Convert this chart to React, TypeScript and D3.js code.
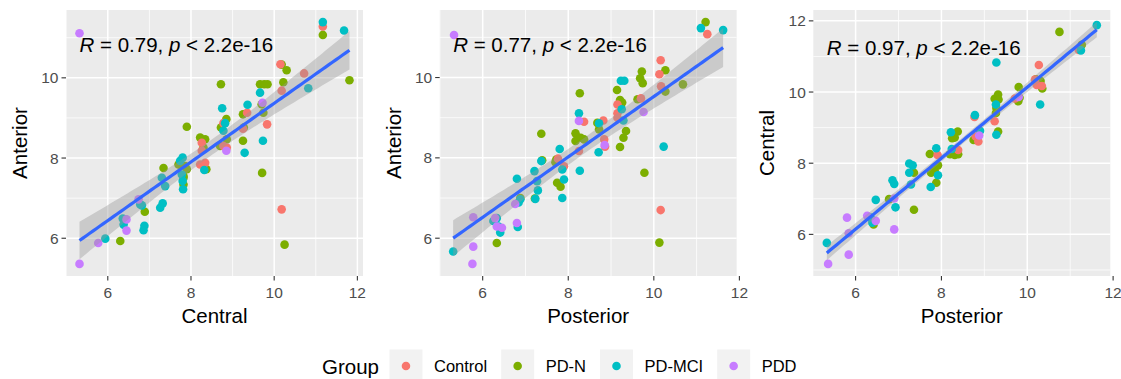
import React from "react";
import * as d3 from "d3";

// Group order, colours and legend title
const GROUPS = ["Control", "PD-N", "PD-MCI", "PDD"];
const GROUP_COLORS = ["#F8766D", "#7CAE00", "#00BFC4", "#C77CFF"];
const LEGEND_TITLE = "Group";

// [x, y, group index]
type Pt = [number, number, number];

// Central (x) vs Anterior (y)
const centralAnterior: Pt[] = [
  [11.17, 11.07, 1], [11.81, 9.94, 1], [10.18, 10.33, 1], [10.3, 10.19, 1], [10.22, 9.89, 1],
  [9.66, 9.84, 1], [9.76, 9.84, 1], [9.84, 9.84, 1], [9.7, 9.34, 1], [9.74, 9.13, 1],
  [9.71, 7.63, 1], [10.25, 5.84, 1], [9.25, 9.09, 1], [9.25, 8.43, 1], [9.27, 8.76, 1],
  [8.72, 9.84, 1], [8.85, 8.97, 1], [8.72, 8.76, 1], [8.86, 8.47, 1], [8.7, 8.3, 1],
  [8.22, 8.51, 1], [8.34, 8.47, 1], [8.28, 8.44, 1], [8.3, 8.26, 1], [8.37, 7.72, 1],
  [7.9, 8.78, 1], [7.7, 7.84, 1], [7.74, 7.84, 1], [7.86, 7.8, 1], [7.9, 7.72, 1],
  [7.82, 7.55, 1], [7.82, 7.51, 1], [7.82, 7.34, 1], [7.34, 7.75, 1], [6.89, 6.66, 1],
  [6.3, 5.93, 1],
  [11.17, 11.28, 0], [10.72, 10.11, 0], [10.15, 10.34, 0], [10.18, 9.68, 0], [10.18, 6.72, 0],
  [9.83, 8.84, 0], [9.35, 9.13, 0], [9.25, 8.73, 0], [8.78, 8.87, 0], [8.86, 8.26, 0],
  [8.78, 8.3, 0], [8.26, 8.38, 0], [8.26, 8.18, 0], [8.22, 7.84, 0], [8.34, 7.88, 0],
  [11.17, 11.39, 2], [11.68, 11.18, 2], [10.82, 9.74, 2], [9.66, 9.63, 2], [9.73, 8.43, 2],
  [9.36, 9.33, 2], [9.29, 8.13, 2], [8.75, 9.24, 2], [8.82, 8.87, 2], [8.78, 8.68, 2],
  [8.32, 7.7, 2], [7.74, 7.93, 2], [7.8, 8.01, 2], [7.78, 7.59, 2], [7.8, 7.43, 2],
  [7.81, 7.22, 2], [7.3, 7.51, 2], [7.38, 7.3, 2], [7.32, 6.87, 2], [7.26, 6.76, 2],
  [6.78, 6.84, 2], [6.82, 6.82, 2], [6.88, 6.31, 2], [6.86, 6.2, 2], [6.42, 6.47, 2],
  [6.36, 6.49, 2], [6.38, 6.34, 2], [5.94, 5.99, 2],
  [5.32, 11.11, 3], [5.32, 5.36, 3], [5.77, 5.88, 3], [6.45, 6.47, 3], [6.45, 6.19, 3],
  [6.74, 6.97, 3], [8.85, 8.18, 3], [9.72, 9.38, 3],
];

// Posterior (x) vs Anterior (y)
const posteriorAnterior: Pt[] = [
  [6.33, 5.88, 1], [7.37, 8.6, 1], [7.39, 7.94, 1], [7.7, 7.89, 1], [7.72, 7.96, 1],
  [7.74, 7.38, 1], [7.82, 7.28, 1], [7.22, 6.99, 1], [8.27, 9.61, 1], [8.17, 8.61, 1],
  [8.17, 8.42, 1], [8.29, 8.5, 1], [8.37, 8.46, 1], [8.68, 8.87, 1], [8.72, 8.71, 1],
  [9.14, 9.69, 1], [9.21, 9.44, 1], [9.26, 9.38, 1], [9.23, 9.29, 1], [9.35, 8.67, 1],
  [9.29, 8.5, 1], [9.21, 8.27, 1], [9.72, 10.15, 1], [9.68, 9.98, 1], [9.74, 9.86, 1],
  [9.62, 9.46, 1], [9.78, 7.63, 1], [10.27, 10.18, 1], [10.27, 9.65, 1], [10.68, 9.83, 1],
  [10.13, 5.89, 1], [11.21, 11.38, 1], [6.88, 7.0, 1],
  [7.76, 7.98, 0], [7.9, 7.79, 0], [8.37, 8.9, 0], [8.25, 8.17, 0], [8.82, 8.93, 0],
  [8.84, 8.46, 0], [8.86, 8.28, 0], [9.15, 9.33, 0], [9.15, 9.11, 0], [9.15, 9.0, 0],
  [9.7, 9.48, 0], [10.16, 10.43, 0], [10.13, 10.08, 0], [10.17, 9.78, 0], [10.16, 6.7, 0],
  [11.25, 11.08, 0],
  [5.31, 5.67, 2], [6.33, 6.5, 2], [6.25, 6.43, 2], [6.37, 6.29, 2], [6.41, 6.14, 2],
  [6.8, 7.48, 2], [6.84, 6.89, 2], [6.88, 6.97, 2], [6.82, 6.28, 2], [7.37, 7.92, 2],
  [7.21, 7.67, 2], [7.27, 7.42, 2], [7.29, 7.19, 2], [7.23, 6.98, 2], [7.8, 8.22, 2],
  [7.86, 7.71, 2], [7.9, 7.46, 2], [7.86, 7.0, 2], [8.25, 9.11, 2], [8.27, 7.68, 2],
  [8.72, 8.86, 2], [8.71, 8.14, 2], [9.23, 9.92, 2], [9.31, 9.92, 2], [9.25, 9.21, 2],
  [9.29, 8.93, 2], [10.23, 8.28, 2], [11.1, 11.23, 2], [11.62, 11.18, 2],
  [5.33, 11.06, 3], [5.78, 6.52, 3], [5.78, 5.79, 3], [5.76, 5.36, 3], [6.29, 6.5, 3],
  [6.33, 6.29, 3], [6.45, 6.26, 3], [6.76, 6.85, 3], [6.8, 6.38, 3], [8.25, 8.92, 3],
  [8.85, 8.32, 3], [9.76, 9.14, 3],
];

// Posterior (x) vs Central (y)
const posteriorCentral: Pt[] = [
  [10.75, 11.69, 1], [11.27, 11.33, 1], [10.2, 10.36, 1], [10.31, 10.31, 1], [10.35, 10.1, 1],
  [9.8, 10.14, 1], [9.82, 9.84, 1], [9.79, 9.74, 1], [9.24, 9.81, 1], [9.32, 9.93, 1],
  [9.33, 9.79, 1], [9.27, 9.41, 1], [9.32, 8.89, 1], [8.75, 8.65, 1], [8.38, 8.89, 1],
  [8.31, 8.72, 1], [8.25, 8.7, 1], [8.2, 8.25, 1], [8.31, 8.23, 1], [8.39, 8.25, 1],
  [7.73, 8.26, 1], [7.92, 7.94, 1], [7.84, 7.8, 1], [7.76, 7.73, 1], [7.88, 7.45, 1],
  [7.36, 7.73, 1], [7.36, 6.69, 1], [6.78, 6.99, 1], [6.42, 6.28, 1], [9.28, 9.55, 1],
  [11.2, 11.18, 0], [10.27, 10.76, 0], [10.22, 10.2, 0], [10.34, 10.17, 0], [9.71, 9.82, 0],
  [9.24, 9.18, 0], [8.77, 9.3, 0], [8.86, 8.61, 0], [8.39, 8.37, 0], [7.91, 8.23, 0],
  [10.18, 10.35, 0], [8.8, 8.75, 0],
  [11.62, 11.88, 2], [11.25, 11.17, 2], [9.28, 10.83, 2], [10.3, 9.65, 2], [9.27, 9.65, 2],
  [9.28, 8.8, 2], [8.78, 9.35, 2], [8.9, 8.91, 2], [8.22, 8.87, 2], [8.24, 8.4, 2],
  [7.88, 8.42, 2], [7.92, 7.66, 2], [7.75, 7.33, 2], [7.25, 7.99, 2], [7.33, 7.94, 2],
  [7.25, 7.73, 2], [7.29, 7.4, 2], [6.86, 7.52, 2], [6.9, 7.42, 2], [6.93, 6.76, 2],
  [6.47, 6.97, 2], [6.35, 6.47, 2], [6.39, 6.33, 2], [5.33, 5.76, 2],
  [5.36, 5.17, 3], [5.84, 5.43, 3], [5.84, 6.03, 3], [5.8, 6.47, 3], [6.27, 6.52, 3],
  [6.47, 6.38, 3], [6.9, 6.14, 3], [6.9, 7.01, 3], [8.88, 8.78, 3], [9.8, 9.86, 3],
];

// Axis titles, correlation labels and tick values of the three panels
const X_TITLES = ["Central", "Posterior", "Posterior"];
const Y_TITLES = ["Anterior", "Anterior", "Central"];
const R_VALUES = ["0.79", "0.77", "0.97"];
const P_LABEL = "2.2e-16";
const X_TICKS = [[6, 8, 10, 12], [6, 8, 10, 12], [6, 8, 10, 12]];
const Y_TICKS = [[6, 8, 10], [6, 8, 10], [6, 8, 10, 12]];
const PANEL_DATA = [centralAnterior, posteriorAnterior, posteriorCentral];

const W = 1121;
const H = 379;
const FONT = '"Liberation Sans", Arial, Helvetica, sans-serif';
const PANEL_W = W / 3;
const M = { left: 66, right: 10.7, top: 10, bottom: 103 };

// Student t quantile (Cornish-Fisher expansion around the normal quantile)
function tQuantile975(df: number) {
  const z = 1.959964;
  return (
    z +
    (z ** 3 + z) / (4 * df) +
    (5 * z ** 5 + 16 * z ** 3 + 3 * z) / (96 * df * df) +
    (3 * z ** 7 + 19 * z ** 5 + 17 * z ** 3 - 15 * z) / (384 * df ** 3)
  );
}

// Linear fit with 95% confidence band, evaluated across the x range
function linearFit(pts: Pt[]) {
  const n = pts.length;
  const xbar = d3.mean(pts, (p) => p[0])!;
  const ybar = d3.mean(pts, (p) => p[1])!;
  let sxx = 0, sxy = 0;
  for (const p of pts) {
    sxx += (p[0] - xbar) ** 2;
    sxy += (p[0] - xbar) * (p[1] - ybar);
  }
  const b = sxy / sxx;
  const a = ybar - b * xbar;
  let sse = 0;
  for (const p of pts) sse += (p[1] - (a + b * p[0])) ** 2;
  const s = Math.sqrt(sse / (n - 2));
  const t = tQuantile975(n - 2);
  const [x0, x1] = d3.extent(pts, (p) => p[0]) as [number, number];
  const steps = 80;
  return d3.range(steps).map((i) => {
    const x = x0 + ((x1 - x0) * i) / (steps - 1);
    const y = a + b * x;
    const se = s * Math.sqrt(1 / n + (x - xbar) ** 2 / sxx);
    return { x, y, lo: y - t * se, hi: y + t * se };
  });
}

function expand([lo, hi]: [number, number]): [number, number] {
  const d = (hi - lo) * 0.05;
  return [lo - d, hi + d];
}

function Panel({ index }: { index: number }) {
  const pts = PANEL_DATA[index];
  const fit = linearFit(pts);
  const ox = index * PANEL_W;
  const x0 = ox + M.left;
  const x1 = ox + PANEL_W - M.right;
  const y0 = M.top;
  const y1 = H - M.bottom;

  const xDom = expand(d3.extent(pts, (p) => p[0]) as [number, number]);
  const yDom = expand([
    Math.min(d3.min(pts, (p) => p[1])!, d3.min(fit, (f) => f.lo)!),
    Math.max(d3.max(pts, (p) => p[1])!, d3.max(fit, (f) => f.hi)!),
  ]);
  const x = d3.scaleLinear().domain(xDom).range([x0, x1]);
  const y = d3.scaleLinear().domain(yDom).range([y1, y0]);

  const xTicks = X_TICKS[index];
  const yTicks = Y_TICKS[index];
  const minor = (ticks: number[], dom: [number, number]) =>
    d3.range(ticks[0] - 1, ticks[ticks.length - 1] + 2, 2).filter((v) => v > dom[0] && v < dom[1]);
  const xMinor = minor(xTicks, xDom);
  const yMinor = minor(yTicks, yDom);

  const band = d3
    .area<{ x: number; lo: number; hi: number }>()
    .x((d) => x(d.x))
    .y0((d) => y(d.lo))
    .y1((d) => y(d.hi));
  const line = d3
    .line<{ x: number; y: number }>()
    .x((d) => x(d.x))
    .y((d) => y(d.y));

  const labelX = x(d3.min(pts, (p) => p[0])!);
  const labelY = y(d3.max(pts, (p) => p[1])!) + 29.5;
  const clipId = `clip-${index}`;

  return (
    <g>
      <defs>
        <clipPath id={clipId}>
          <rect x={x0} y={y0} width={x1 - x0} height={y1 - y0} />
        </clipPath>
      </defs>
      <rect x={x0} y={y0} width={x1 - x0} height={y1 - y0} fill="#EBEBEB" />
      {xMinor.map((v) => (
        <line key={`xm${v}`} x1={x(v)} x2={x(v)} y1={y0} y2={y1} stroke="#fff" strokeWidth={0.75} />
      ))}
      {yMinor.map((v) => (
        <line key={`ym${v}`} x1={x0} x2={x1} y1={y(v)} y2={y(v)} stroke="#fff" strokeWidth={0.75} />
      ))}
      {xTicks.map((v) => (
        <line key={`xM${v}`} x1={x(v)} x2={x(v)} y1={y0} y2={y1} stroke="#fff" strokeWidth={1.5} />
      ))}
      {yTicks.map((v) => (
        <line key={`yM${v}`} x1={x0} x2={x1} y1={y(v)} y2={y(v)} stroke="#fff" strokeWidth={1.5} />
      ))}
      <g clipPath={`url(#${clipId})`}>
        {pts.map((p, i) => (
          <circle key={i} cx={x(p[0])} cy={y(p[1])} r={4.3} fill={GROUP_COLORS[p[2]]} />
        ))}
        <path d={band(fit)!} fill="#999999" fillOpacity={0.4} />
        <path d={line(fit)!} fill="none" stroke="#3366FF" strokeWidth={3.2} />
      </g>
      <text x={labelX} y={labelY} fontFamily={FONT} fontSize={20.5} fill="#000">
        <tspan fontStyle="italic">R</tspan>
        {` = ${R_VALUES[index]}, `}
        <tspan fontStyle="italic">p</tspan>
        {` < ${P_LABEL}`}
      </text>
      {/* x axis */}
      {xTicks.map((v) => (
        <g key={`xt${v}`}>
          <line x1={x(v)} x2={x(v)} y1={y1} y2={y1 + 4.5} stroke="#333" strokeWidth={1.1} />
          <text x={x(v)} y={y1 + 22} textAnchor="middle" fontFamily={FONT} fontSize={15.5} fill="#4D4D4D">
            {v}
          </text>
        </g>
      ))}
      {/* y axis */}
      {yTicks.map((v) => (
        <g key={`yt${v}`}>
          <line x1={x0 - 4.5} x2={x0} y1={y(v)} y2={y(v)} stroke="#333" strokeWidth={1.1} />
          <text
            x={x0 - 7.5}
            y={y(v)}
            dy="0.36em"
            textAnchor="end"
            fontFamily={FONT}
            fontSize={15.5}
            fill="#4D4D4D"
          >
            {v}
          </text>
        </g>
      ))}
      <text x={(x0 + x1) / 2} y={323} textAnchor="middle" fontFamily={FONT} fontSize={20.5} fill="#000">
        {X_TITLES[index]}
      </text>
      <text
        transform={`translate(${ox + 27},${(y0 + y1) / 2}) rotate(-90)`}
        textAnchor="middle"
        fontFamily={FONT}
        fontSize={20.5}
        fill="#000"
      >
        {Y_TITLES[index]}
      </text>
    </g>
  );
}

function measure(text: string, size: number) {
  const ctx = document.createElement("canvas").getContext("2d");
  if (!ctx) return text.length * size * 0.55;
  ctx.font = `${size}px ${FONT}`;
  return ctx.measureText(text).width;
}

function Legend() {
  const titleSize = 20.5;
  const labelSize = 16.5;
  const key = 33;
  const cy = 366;
  let cursor = 322;
  const titleX = cursor;
  cursor += measure(LEGEND_TITLE, titleSize) + 10.5;
  const items = GROUPS.map((g, i) => {
    const kx = cursor;
    const lx = kx + key + 11.5;
    cursor = lx + measure(g, labelSize) + 14;
    return { g, i, kx, lx };
  });
  return (
    <g>
      <text x={titleX} y={cy + 7.5} fontFamily={FONT} fontSize={titleSize} fill="#000">
        {LEGEND_TITLE}
      </text>
      {items.map(({ g, i, kx, lx }) => (
        <g key={g}>
          <rect x={kx} y={cy - key / 2} width={key} height={key} fill="#F2F2F2" />
          <circle cx={kx + key / 2} cy={cy} r={4.3} fill={GROUP_COLORS[i]} />
          <text x={lx} y={cy + 6} fontFamily={FONT} fontSize={labelSize} fill="#000">
            {g}
          </text>
        </g>
      ))}
    </g>
  );
}

export default function App() {
  return (
    <svg
      width={W}
      height={H}
      viewBox={`0 0 ${W} ${H}`}
      style={{ position: "absolute", left: 0, top: 0, background: "#fff" }}
    >
      <rect width={W} height={H} fill="#fff" />
      {[0, 1, 2].map((i) => (
        <Panel key={i} index={i} />
      ))}
      <Legend />
    </svg>
  );
}
